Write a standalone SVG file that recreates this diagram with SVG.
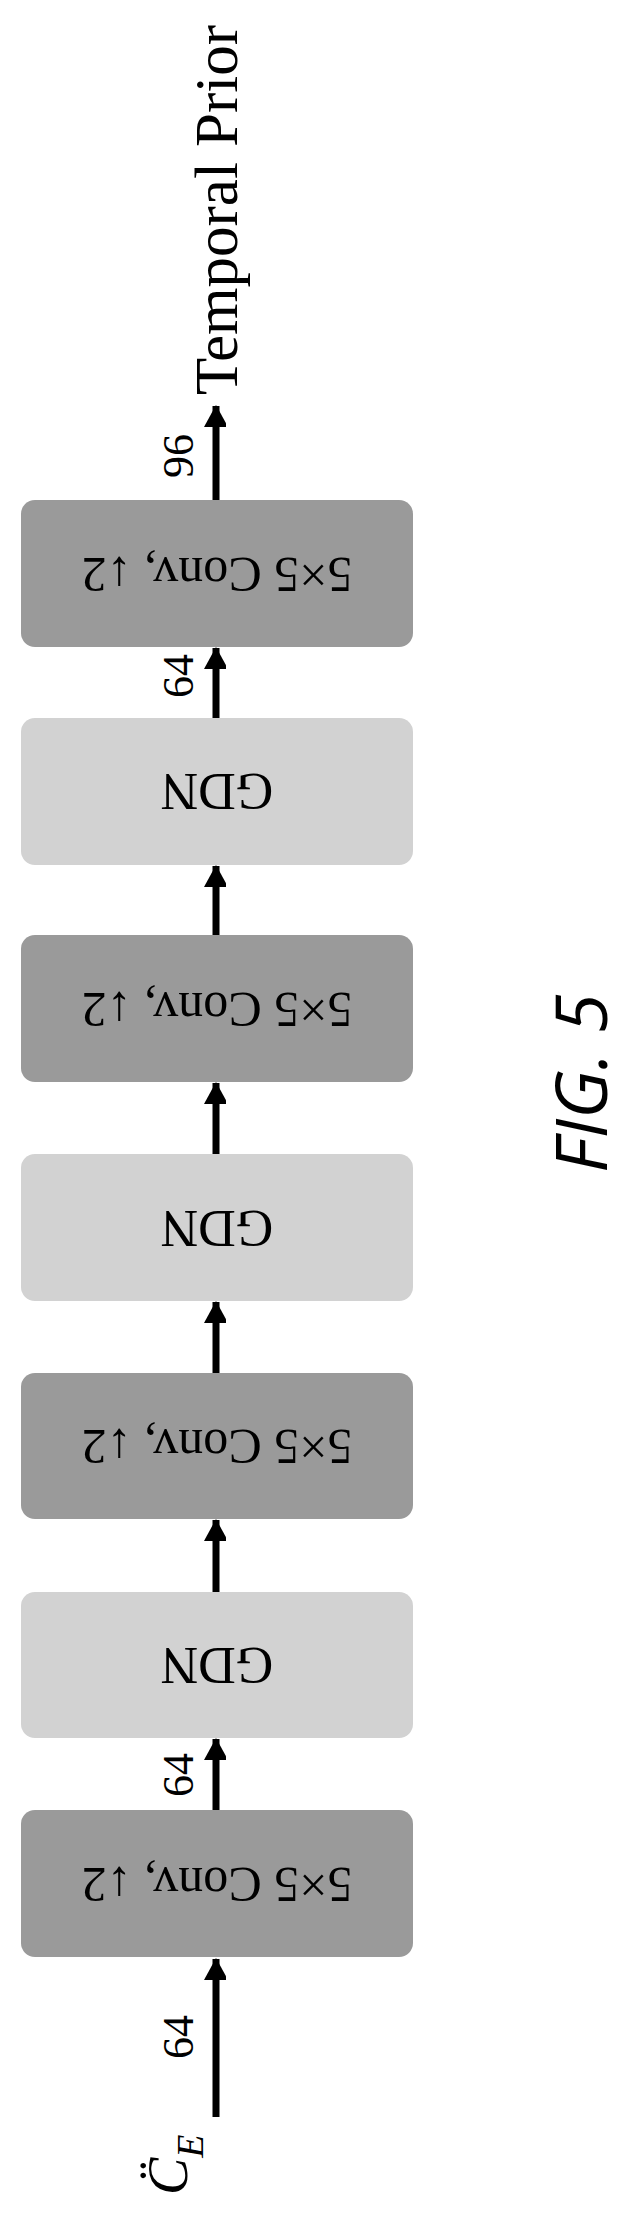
<svg xmlns="http://www.w3.org/2000/svg" width="628" height="2215" viewBox="0 0 628 2215">
<style>
.conv{fill:#9a9a9a}
.gdn{fill:#d2d2d2}
.lbl{font-family:"Liberation Serif",serif;fill:#000}
.box{font-size:50px}
.g{font-size:52px}
.n{font-size:44px}
.edge{stroke:#000;stroke-width:7;fill:none;marker-end:url(#ah)}
</style>
<defs>
<marker id="ah" markerUnits="userSpaceOnUse" markerWidth="24" markerHeight="22" refX="21" refY="12" orient="auto">
<path d="M0,0 L22,12 L0,24 Z" fill="#000"/>
</marker>
</defs>
<rect width="628" height="2215" fill="#fff"/>
<g id="n1"><rect class="conv" x="21" y="1810" width="392" height="147" rx="14"/><text class="lbl box" x="217" y="1900" text-anchor="middle" transform="rotate(180 217 1884)">5×5 Conv, ↓2</text></g>
<g id="n2"><rect class="gdn" x="21" y="1592" width="392" height="146" rx="14"/><text class="lbl g" x="217" y="1682" text-anchor="middle" transform="rotate(180 217 1665)">GDN</text></g>
<g id="n3"><rect class="conv" x="21" y="1373" width="392" height="146" rx="14"/><text class="lbl box" x="217" y="1462" text-anchor="middle" transform="rotate(180 217 1446)">5×5 Conv, ↓2</text></g>
<g id="n4"><rect class="gdn" x="21" y="1154" width="392" height="147" rx="14"/><text class="lbl g" x="217" y="1245" text-anchor="middle" transform="rotate(180 217 1228)">GDN</text></g>
<g id="n5"><rect class="conv" x="21" y="935" width="392" height="147" rx="14"/><text class="lbl box" x="217" y="1025" text-anchor="middle" transform="rotate(180 217 1009)">5×5 Conv, ↓2</text></g>
<g id="n6"><rect class="gdn" x="21" y="718" width="392" height="147" rx="14"/><text class="lbl g" x="217" y="808" text-anchor="middle" transform="rotate(180 217 791)">GDN</text></g>
<g id="n7"><rect class="conv" x="21" y="500" width="392" height="147" rx="14"/><text class="lbl box" x="217" y="590" text-anchor="middle" transform="rotate(180 217 574)">5×5 Conv, ↓2</text></g>
<g id="connectors">
<line class="edge" x1="216" y1="2117" x2="216" y2="1959"/>
<line class="edge" x1="216" y1="1810" x2="216" y2="1739"/>
<line class="edge" x1="216" y1="1592" x2="216" y2="1520"/>
<line class="edge" x1="216" y1="1373" x2="216" y2="1302"/>
<line class="edge" x1="216" y1="1154" x2="216" y2="1083"/>
<line class="edge" x1="216" y1="935" x2="216" y2="866"/>
<line class="edge" x1="216" y1="718" x2="216" y2="648"/>
<line class="edge" x1="216" y1="500" x2="216" y2="406"/>
</g>
<g id="labels">
<text class="lbl n" transform="translate(193 2037) rotate(-90)" text-anchor="middle">64</text>
<text class="lbl n" transform="translate(193 1775) rotate(-90)" text-anchor="middle">64</text>
<text class="lbl n" transform="translate(193 676) rotate(-90)" text-anchor="middle">64</text>
<text class="lbl n" transform="translate(193 456) rotate(-90)" text-anchor="middle">96</text>
</g>
<g id="out"><text class="lbl" font-size="61" transform="translate(237 395) rotate(-90)">Temporal Prior</text></g>
<g id="in"><text class="lbl" font-size="56" font-style="italic" transform="translate(187 2195) rotate(-90)">C̈<tspan font-size="38" dy="16">E</tspan></text></g>
<text font-family="Open Sans,sans-serif" font-style="italic" font-size="72" transform="translate(607 1173) rotate(-90)">FIG. 5</text>
</svg>
